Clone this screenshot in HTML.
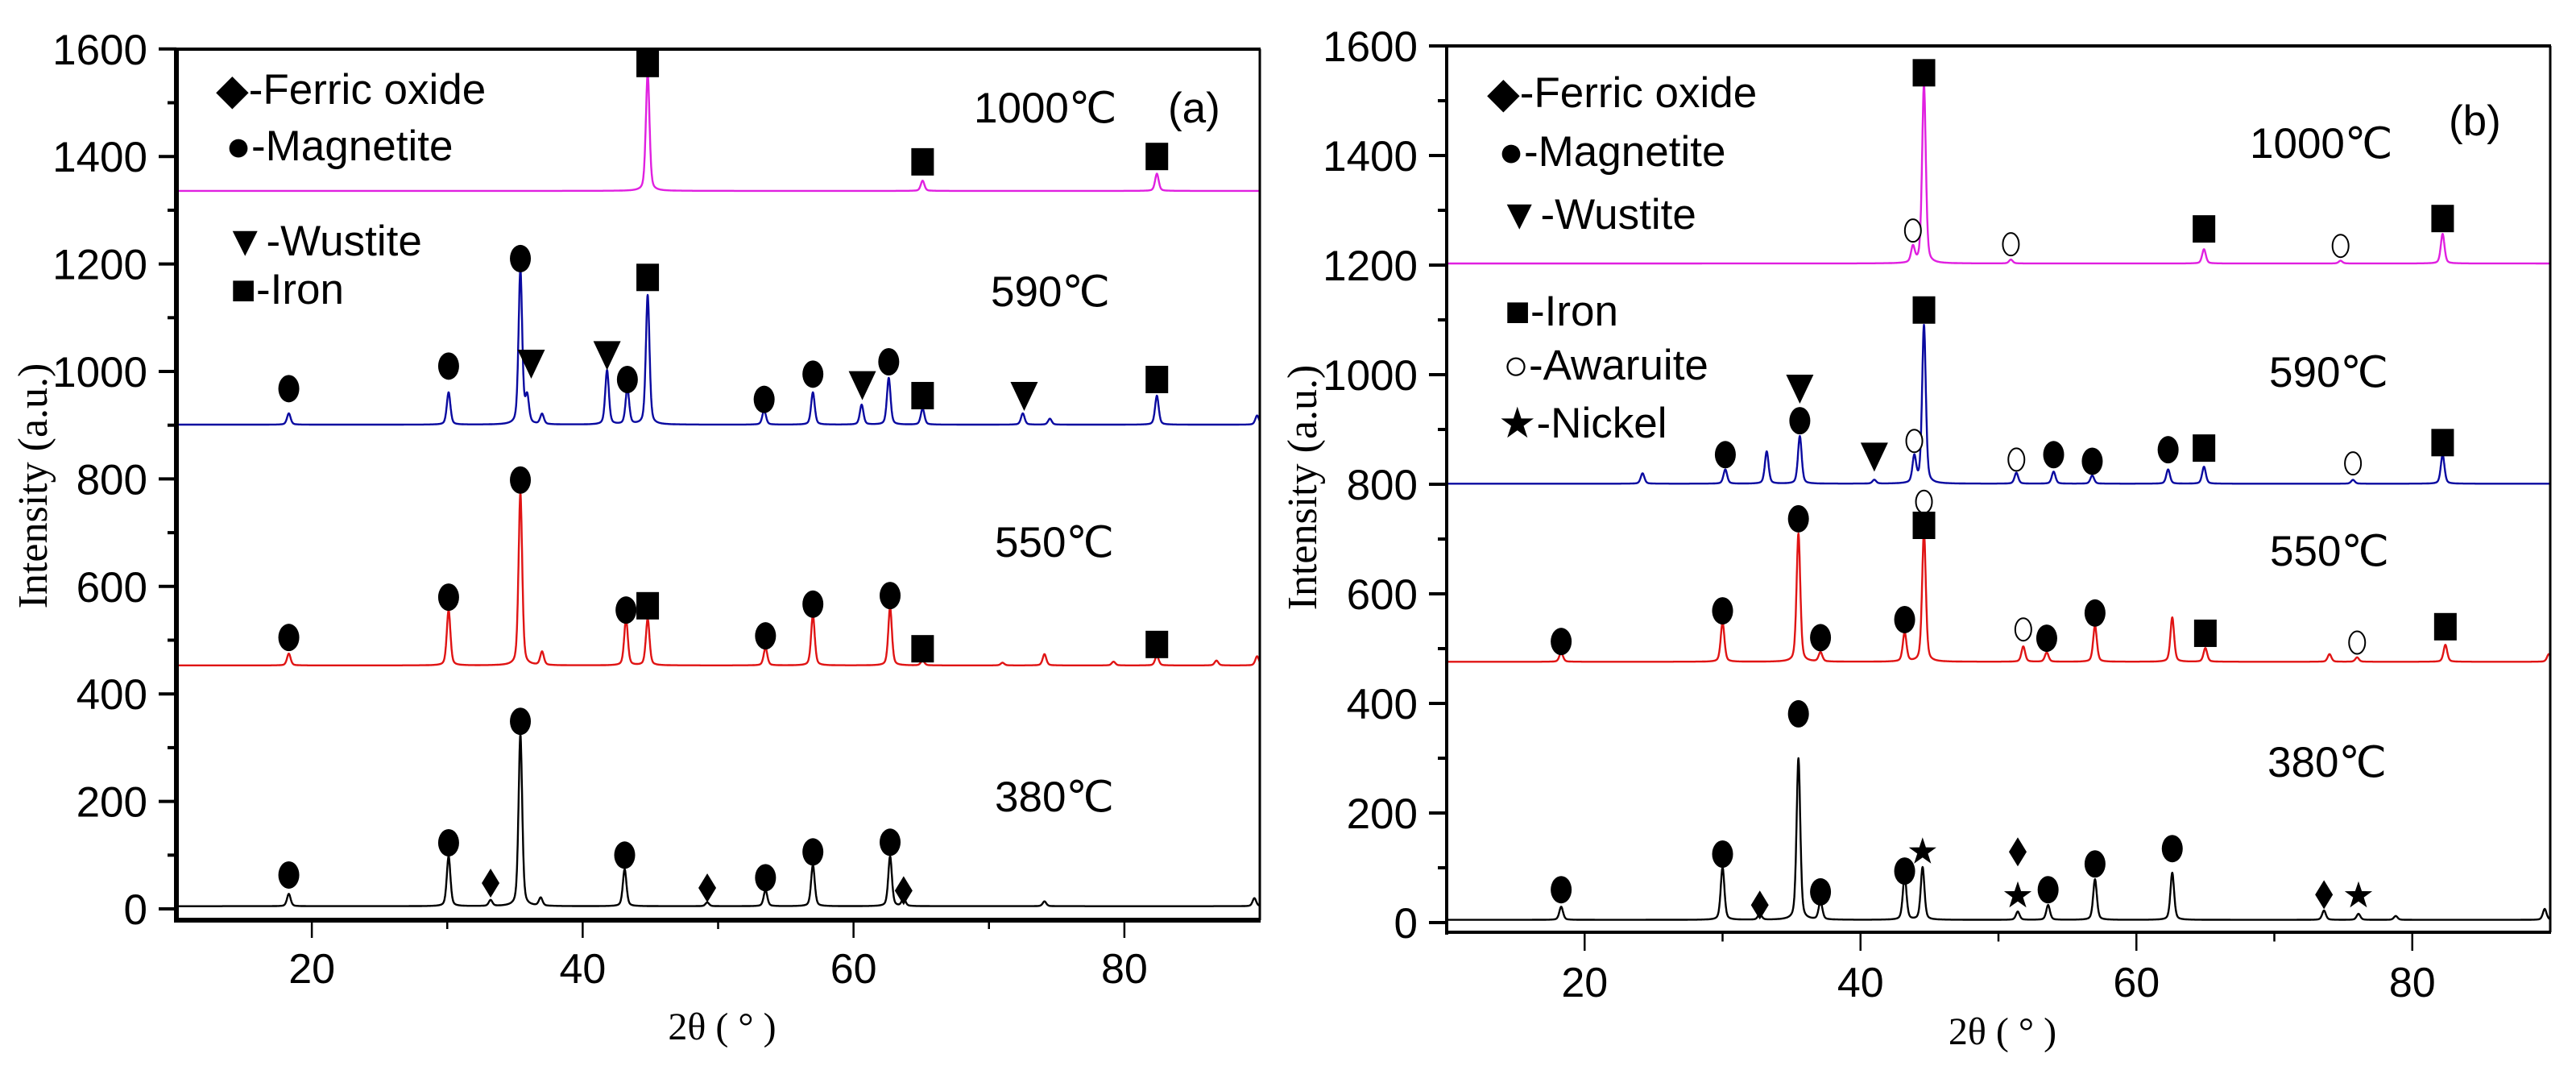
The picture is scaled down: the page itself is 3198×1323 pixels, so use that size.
<!DOCTYPE html>
<html><head><meta charset="utf-8"><title>XRD patterns</title>
<style>
html,body{margin:0;padding:0;background:#fff;}
svg{display:block;}
text{font-family:"Liberation Sans",Arial,sans-serif;fill:#000;}
.serif{font-family:"Liberation Serif","Times New Roman",serif;}
</style></head>
<body>
<svg id="chart" xmlns="http://www.w3.org/2000/svg" width="3198" height="1323" viewBox="0 0 3198 1323">
<rect x="0" y="0" width="3198" height="1323" fill="#fff"/>
<g id="panelA"></g>
<g id="panelB"></g>
</svg>
<script>
// ---------- data: tick labels ----------
const xTicks = [20, 40, 60, 80];
const xMinor = [30, 50, 70];
const yTicks = [0, 200, 400, 600, 800, 1000, 1200, 1400, 1600];
const yMinor = [100, 300, 500, 700, 900, 1100, 1300, 1500];

// ---------- panel (a) series ----------
const a1000Base = 1336;
const a1000Pos = [44.8, 65.1, 82.4];
const a1000Top = [1555, 1355, 1368];
const a590Base = 901;
const a590Pos = [18.3, 30.1, 35.4, 35.9, 37.0, 41.8, 43.3, 44.8, 53.4, 57.0, 60.6, 62.6, 65.1, 72.5, 74.5, 82.4, 89.8];
const a590Top = [922, 961, 1189, 950, 920, 1002, 968, 1142, 928, 961, 938, 988, 931, 922, 912, 955, 918];
const a550Base = 453;
const a550Pos = [18.3, 30.1, 35.4, 37.0, 43.2, 44.8, 53.5, 57.0, 62.7, 65.1, 71.0, 74.1, 79.2, 82.4, 86.8, 89.8];
const a550Top = [475, 556, 774, 478, 540, 540, 486, 547, 561, 462, 458, 474, 460, 471, 462, 470];
const a380Base = 5;
const a380Pos = [18.3, 30.1, 33.2, 35.4, 36.9, 43.1, 49.2, 53.5, 57.0, 62.7, 63.7, 74.1, 89.6];
const a380Top = [28, 98, 16, 325, 20, 74, 12, 35, 82, 98, 20, 14, 20];

// panel (a) markers
const aMarkType = ['sq','sq','sq',
  'dot','dot','dot','tri','tri','dot','sq','dot','dot','tri','dot','sq','tri','sq',
  'dot','dot','dot','dot','sq','dot','dot','dot','sq','sq',
  'dot','dot','dia','dot','dot','dia','dot','dot','dot','dia'];
const aMarkX = [44.8, 65.1, 82.4,
  18.3, 30.1, 35.4, 36.2, 41.8, 43.3, 44.8, 53.4, 57.0, 60.65, 62.6, 65.1, 72.6, 82.4,
  18.3, 30.1, 35.4, 43.2, 44.8, 53.5, 57.0, 62.7, 65.1, 82.4,
  18.3, 30.1, 33.2, 35.4, 43.1, 49.2, 53.5, 57.0, 62.7, 63.7];
const aMarkY = [1573, 1390, 1400,
  968, 1010, 1210, 1015, 1031, 985, 1175, 948, 995, 975, 1018, 955, 955, 985,
  505, 580, 798, 556, 564, 508, 567, 583, 484, 492,
  63, 123, 48, 349, 100, 39, 58, 106, 124, 34];

// ---------- panel (b) series ----------
const b1000Base = 1203;
const b1000Pos = [43.8, 44.6, 50.9, 64.9, 74.8, 82.2];
const b1000Top = [1232, 1529, 1210, 1229, 1208, 1257];
const b590Base = 801;
const b590Pos = [24.2, 30.2, 33.2, 35.6, 41.0, 43.9, 44.6, 51.3, 54.0, 56.8, 62.3, 64.9, 75.7, 82.2];
const b590Top = [820, 827, 860, 888, 808, 849, 1090, 821, 823, 816, 827, 832, 808, 854];
const b550Base = 476;
const b550Pos = [18.3, 30.0, 35.5, 37.1, 43.2, 44.6, 51.8, 53.5, 57.0, 62.6, 65.0, 74.0, 76.0, 82.4, 89.9];
const b550Top = [493, 548, 710, 493, 529, 713, 504, 493, 542, 557, 501, 490, 484, 507, 490];
const b380Base = 5;
const b380Pos = [18.3, 30.0, 32.7, 35.5, 37.1, 43.2, 44.5, 51.4, 53.6, 57.0, 62.6, 73.6, 76.1, 78.8, 89.6];
const b380Top = [29, 101, 16, 300, 38, 85, 101, 20, 32, 79, 91, 22, 16, 12, 25];

// panel (b) markers
const bMarkType = ['circ','sq','circ','sq','circ','sq',
  'dot','dot','tri','tri','circ','sq','circ','dot','dot','dot','sq','circ','sq',
  'dot','dot','dot','circ','sq','dot','circ','dot','dot','dot','sq','circ','sq',
  'dot','dot','dia','dot','dot','dot','star','star','dia','dot','dot','dot','dia','star'];
const bMarkX = [43.8, 44.6, 50.9, 64.9, 74.8, 82.2,
  30.2, 35.6, 35.6, 41.0, 43.9, 44.6, 51.3, 54.0, 56.8, 62.3, 64.9, 75.7, 82.2,
  18.3, 30.0, 35.5, 44.6, 44.6, 37.1, 51.8, 43.2, 53.5, 57.0, 65.0, 76.0, 82.4,
  18.3, 30.0, 32.7, 35.5, 37.1, 43.2, 44.5, 51.4, 51.4, 53.6, 57.0, 62.6, 73.6, 76.1];
const bMarkY = [1263, 1551, 1238, 1266, 1235, 1285,
  854, 916, 975, 851, 879, 1118, 845, 854, 842, 863, 866, 838, 876,
  513, 569, 737, 768, 725, 520, 535, 553, 519, 565, 528, 511, 540,
  60, 125, 32, 381, 56, 94, 129, 49, 129, 60, 107, 135, 51, 49];

// ---------- helpers ----------
const NS = 'http://www.w3.org/2000/svg';
function mk(parent, tag, attrs, txt) {
  const e = document.createElementNS(NS, tag);
  for (const k in attrs) e.setAttribute(k, attrs[k]);
  if (txt !== undefined) e.textContent = txt;
  parent.appendChild(e);
  return e;
}
function profile(x, pos, top, base) {
  let y = base;
  for (let i = 0; i < pos.length; i++) {
    const h = top[i] - base;
    const w = 0.16;
    const d = (x - pos[i]) / w;
    y += h * (0.6 * Math.exp(-0.693 * d * d) + 0.4 / (1 + d * d));
  }
  return y;
}

function drawPanel(g, P) {
  const sx = v => P.x0 + (v - 10) / 80 * (P.x1 - P.x0);
  const sy = v => P.yZero - v * P.k;

  P.series.forEach(s => {
    let d = '';
    for (let x = 10; x <= 90.001; x += 0.02) {
      d += (d ? 'L' : 'M') + sx(x).toFixed(1) + ',' + sy(profile(x, s.pos, s.top, s.base)).toFixed(1);
    }
    const p = mk(g, 'path', {d: d, fill: 'none', stroke: s.color, 'stroke-width': 2.4, 'stroke-linejoin': 'round'});
    
    
  });

  for (let i = 0; i < P.mType.length; i++) {
    const cx = sx(P.mX[i]), cy = sy(P.mY[i]), t = P.mType[i];
    let m;
    if (t === 'dot') m = mk(g, 'ellipse', {cx: cx, cy: cy, rx: 13, ry: 17, fill: '#000'});
    else if (t === 'sq') m = mk(g, 'rect', {x: cx - 14, y: cy - 17, width: 28, height: 34, fill: '#000'});
    else if (t === 'tri') m = mk(g, 'polygon', {points: (cx - 17) + ',' + (cy - 17) + ' ' + (cx + 17) + ',' + (cy - 17) + ' ' + cx + ',' + (cy + 19), fill: '#000'});
    else if (t === 'dia') m = mk(g, 'polygon', {points: cx + ',' + (cy - 18) + ' ' + (cx + 11) + ',' + cy + ' ' + cx + ',' + (cy + 18) + ' ' + (cx - 11) + ',' + cy, fill: '#000'});
    else if (t === 'circ') m = mk(g, 'ellipse', {cx: cx, cy: cy, rx: 10, ry: 14, fill: '#fff', stroke: '#000', 'stroke-width': 2});
    else {
      let pts = [];
      for (let k = 0; k < 10; k++) {
        const r = k % 2 ? 7 : 18, a = -Math.PI / 2 + k * Math.PI / 5;
        pts.push((cx + r * Math.cos(a)).toFixed(1) + ',' + (cy + r * Math.sin(a)).toFixed(1));
      }
      m = mk(g, 'polygon', {points: pts.join(' '), fill: '#000'});
    }
    
    
  }

  const f = mk(g, 'g', {});
  
  
  mk(f, 'line', {x1: P.x0 - 2, y1: P.yTop, x2: P.x1 + 1, y2: P.yTop, stroke: '#000', 'stroke-width': P.topW});
  mk(f, 'line', {x1: P.x1, y1: P.yTop, x2: P.x1, y2: P.yBot, stroke: '#000', 'stroke-width': P.rightW});
  mk(f, 'line', {x1: P.x0, y1: P.yTop - 2, x2: P.x0, y2: P.yBot + 3, stroke: '#000', 'stroke-width': P.leftW});
  mk(f, 'line', {x1: P.x0 - 2, y1: P.yBot, x2: P.x1 + 1, y2: P.yBot, stroke: '#000', 'stroke-width': P.botW});

  yTicks.forEach(v => {
    const y = sy(v);
    mk(g, 'line', {x1: P.x0 - 22, y1: y, x2: P.x0, y2: y, stroke: '#000', 'stroke-width': 4});
    const t = mk(g, 'text', {x: P.x0 - 36, y: y + 19, 'font-size': 53, 'text-anchor': 'end'}, String(v));
    
    
  });
  yMinor.forEach(v => {
    const y = sy(v);
    mk(g, 'line', {x1: P.x0 - 11, y1: y, x2: P.x0, y2: y, stroke: '#000', 'stroke-width': 4});
  });
  xTicks.forEach(v => {
    const x = sx(v);
    mk(g, 'line', {x1: x, y1: P.yBot, x2: x, y2: P.yBot + P.majLen, stroke: '#000', 'stroke-width': 2.5});
    const t = mk(g, 'text', {x: x, y: P.xLabY, 'font-size': 52, 'text-anchor': 'middle'}, String(v));
    
    
  });
  xMinor.forEach(v => {
    const x = sx(v);
    mk(g, 'line', {x1: x, y1: P.yBot, x2: x, y2: P.yBot + P.majLen / 2, stroke: '#000', 'stroke-width': 2.5});
  });

  const xt = mk(g, 'text', {x: (P.x0 + P.x1) / 2 + 5, y: P.xTitleY, 'font-size': 48, 'text-anchor': 'middle', class: 'serif'}, P.xTitle);
  
  
  const yt = mk(g, 'text', {x: 0, y: 0, 'font-size': 52, 'text-anchor': 'middle', class: 'serif',
    transform: 'translate(' + P.yTitleX + ',' + P.yTitleY + ') rotate(-90)'}, 'Intensity (a.u.)');
  
  

  P.labels.forEach(l => {
    const t = mk(g, 'text', {x: l[0], y: l[1], 'font-size': l[3] || 53}, l[2]);
    
    
  });
}

drawPanel(document.getElementById('panelA'), {
  x0: 219, x1: 1564, yTop: 61, yBot: 1142, yZero: 1128, k: 0.667,
  topW: 4, rightW: 3, leftW: 6, botW: 6, majLen: 22, xLabY: 1220, xTitleY: 1290,
  xTitle: '2θ ( ° )', yTitleX: 58, yTitleY: 603,
  series: [
    {name: 'trace-1000c', color: '#e020e0', base: a1000Base, pos: a1000Pos, top: a1000Top},
    {name: 'trace-590c', color: '#0a0aa0', base: a590Base, pos: a590Pos, top: a590Top},
    {name: 'trace-550c', color: '#e01414', base: a550Base, pos: a550Pos, top: a550Top},
    {name: 'trace-380c', color: '#000000', base: a380Base, pos: a380Pos, top: a380Top}
  ],
  mType: aMarkType, mX: aMarkX, mY: aMarkY,
  labels: [
    [268, 129, '◆-Ferric oxide', 53, 'legend-ferric-oxide'],
    [280, 199, '●-Magnetite', 53, 'legend-magnetite'],
    [278, 317, '▼-Wustite', 53, 'legend-wustite'],
    [286, 377, '■-Iron', 53, 'legend-iron'],
    [1209, 152, '1000℃', 53, 'label-1000c'],
    [1450, 152, '(a)', 53, 'panel-label-a'],
    [1230, 380, '590℃', 53, 'label-590c'],
    [1235, 691, '550℃', 53, 'label-550c'],
    [1235, 1007, '380℃', 53, 'label-380c']
  ]
});

drawPanel(document.getElementById('panelB'), {
  x0: 1796, x1: 3166, yTop: 57, yBot: 1157, yZero: 1145, k: 0.68,
  topW: 4, rightW: 3, leftW: 4, botW: 4, majLen: 23, xLabY: 1237, xTitleY: 1296,
  xTitle: '2θ ( ° )', yTitleX: 1634, yTitleY: 605,
  series: [
    {name: 'trace-1000c', color: '#e020e0', base: b1000Base, pos: b1000Pos, top: b1000Top},
    {name: 'trace-590c', color: '#0a0aa0', base: b590Base, pos: b590Pos, top: b590Top},
    {name: 'trace-550c', color: '#e01414', base: b550Base, pos: b550Pos, top: b550Top},
    {name: 'trace-380c', color: '#000000', base: b380Base, pos: b380Pos, top: b380Top}
  ],
  mType: bMarkType, mX: bMarkX, mY: bMarkY,
  labels: [
    [1846, 133, '◆-Ferric oxide', 53, 'legend-ferric-oxide'],
    [1860, 206, '●-Magnetite', 53, 'legend-magnetite'],
    [1860, 284, '▼-Wustite', 53, 'legend-wustite'],
    [1868, 404, '■-Iron', 53, 'legend-iron'],
    [1866, 471, '○-Awaruite', 53, 'legend-awaruite'],
    [1860, 543, '★-Nickel', 53, 'legend-nickel'],
    [2793, 196, '1000℃', 53, 'label-1000c'],
    [3040, 168, '(b)', 53, 'panel-label-b'],
    [2817, 480, '590℃', 53, 'label-590c'],
    [2818, 702, '550℃', 53, 'label-550c'],
    [2815, 964, '380℃', 53, 'label-380c']
  ]
});
</script>
</body></html>
